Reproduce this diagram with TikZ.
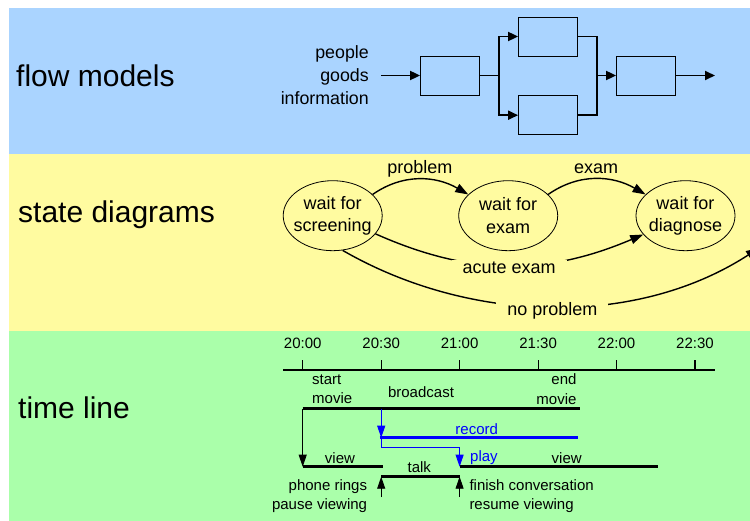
\documentclass[tikz,border=0pt]{standalone}
\usepackage{fontspec}
\setmainfont{Liberation Sans}
\usepackage{tikz}
\usetikzlibrary{shapes,arrows.meta}
\usetikzlibrary{shapes.geometric}

\definecolor{flowblue}{RGB}{170,212,255}
\definecolor{stateyellow}{RGB}{255,251,160}
\definecolor{timegreen}{RGB}{170,255,170}
\definecolor{playblue}{RGB}{0,0,255}

\begin{document}
\begin{tikzpicture}[x=1pt, y=-1pt, thin,
        bandtitle/.style={anchor=base west, inner sep=0, font=\fontsize{30}{36}\selectfont},
        flowtext/.style={inner sep=0, align=right, font=\fontsize{17.8}{23}\selectfont},
        flowbox/.style={draw, line width=0.8pt, minimum width=59, minimum height=39, inner sep=0},
        flowline/.style={line width=1.8pt},
        flowarrow/.style={line width=1.8pt, -{Triangle[length=10pt,width=9pt]}},
        waitstate/.style={ellipse, draw, line width=0.8pt, minimum width=99, minimum height=70,
            inner xsep=-5pt, inner ysep=0, align=center, font=\fontsize{18}{22.7}\selectfont},
        stateedge/.style={line width=1.4pt, -{Triangle[length=13pt,width=9pt]}},
        arclabel/.style={above, inner sep=1pt, text height=13pt, text depth=3.8pt,
            font=\fontsize{18}{22}\selectfont},
        gaplabel/.style={fill=stateyellow, inner xsep=11pt, inner ysep=2pt,
            font=\fontsize{18}{22}\selectfont},
        tltext/.style={inner sep=0, font=\fontsize{15}{19.5}\selectfont},
        ticklabel/.style={tltext, anchor=south, yshift=10.7pt},
        axisline/.style={line width=1.2pt},
        bar/.style={line width=3pt},
        tlarrow/.style={line width=0.9pt, -{Triangle[length=12pt,width=8pt]}},
    ]
        % Bands
        \useasboundingbox (0,0) rectangle (750,521);
        \clip (0,0) rectangle (750,521);
        \fill[flowblue]    (9,8)   rectangle (750,154);
        \fill[stateyellow] (9,154) rectangle (750,331);
        \fill[timegreen]   (9,331) rectangle (750,521);

        \node[bandtitle] (flowtitle)  at (16,87)    {flow models};
        \node[bandtitle] (statetitle) at (18,222.5) {state diagrams};
        \node[bandtitle] (timetitle)  at (18,418.3) {time line};

        % Flow model
        \node[flowtext, anchor=east] (goods) at (369,74.7) {people\\goods\\information};
        \node[flowbox] (boxa) at (450,75.5)  {};
        \node[flowbox] (boxb) at (548,36.5)  {};
        \node[flowbox] (boxc) at (548,115.2) {};
        \node[flowbox] (boxd) at (646,75.5)  {};
        \coordinate (flowin)  at (381,75.5);
        \coordinate (split)   at (498.7,75.5);
        \coordinate (merge)   at (596.7,75.5);
        \coordinate (flowout) at (715,75.5);

        \draw[flowarrow] (flowin) -- (boxa);
        \draw[flowline]  (boxa) -- (split);
        \draw[flowarrow] (split) |- (boxb);
        \draw[flowarrow] (split) |- (boxc);
        \draw[flowline]  (boxb) -| (merge);
        \draw[flowline]  (boxc) -| (merge);
        \draw[flowarrow] (merge) -- (boxd);
        \draw[flowarrow] (boxd) -- (flowout);

        % States
        \node[waitstate] (screening) at (332.7,215.7) {wait for\\screening};
        \node[waitstate] (exam)      at (508.2,215.7) {wait for\\exam};
        \node[waitstate] (diagnose)  at (685.5,215.7) {wait for\\diagnose};
        \coordinate (offstate) at (759,248);

        % Transitions
        \path[stateedge] (screening.28) edge[out=35, in=150] node[arclabel] {problem} (exam.152);
        \path[stateedge] (exam.28) edge[out=35, in=150] node[arclabel] {exam} (diagnose.152);
        \path[stateedge] (screening.-23) edge[out=-24, in=203] node[gaplabel, yshift=-2pt] {acute exam} (diagnose.204);
        \path[stateedge] (screening.-74) edge[out=-30, in=213, looseness=0.9] node[gaplabel, yshift=-4.5pt] {no problem} (offstate);

        % Time axis
        \coordinate (axisl) at (283,370);
        \coordinate (axisr) at (715,370);
        \draw[axisline] (axisl) -- (axisr);
        \draw[axisline] (302.7,370) -- (302.7,360) node[ticklabel] (h2000) {20:00};
        \draw[axisline] (381.2,370) -- (381.2,360) node[ticklabel] (h2030) {20:30};
        \draw[axisline] (459.6,370) -- (459.6,360) node[ticklabel] (h2100) {21:00};
        \draw[axisline] (538.1,370) -- (538.1,360) node[ticklabel] (h2130) {21:30};
        \draw[axisline] (616.5,370) -- (616.5,360) node[ticklabel] (h2200) {22:00};
        \draw[axisline] (695,370)   -- (695,360)   node[ticklabel] (h2230) {22:30};

        % Time line points
        \coordinate (movstart)   at (302.7,408.7);
        \coordinate (movend)     at (580,408.7);
        \coordinate (recfrom)    at (381.2,408.7);
        \coordinate (recstart)   at (381.2,437.7);
        \coordinate (recleft)    at (379.5,437.7);
        \coordinate (recend)     at (578,437.7);
        \coordinate (recbend)    at (381.2,447.3);
        \coordinate (playbend)   at (459.6,447.3);
        \coordinate (view1start) at (302.7,466.7);
        \coordinate (view1end)   at (383.3,466.7);
        \coordinate (view2start) at (459.6,466.7);
        \coordinate (view2end)   at (658.3,466.7);
        \coordinate (talkstart)  at (381.2,476.7);
        \coordinate (talkend)    at (459.6,476.7);
        \coordinate (ringfoot)   at (381.2,497);
        \coordinate (resumefoot) at (459.6,497);

        \draw[bar] (movstart) -- (movend);
        \draw[bar, playblue] (recleft) -- (recend);
        \draw[bar] (view1start) -- (view1end);
        \draw[bar] (view2start) -- (view2end);
        \draw[bar] (talkstart) -- (talkend);
        \draw[tlarrow] (movstart) -- (view1start);
        \draw[tlarrow, playblue] (recfrom) -- (recstart);
        \draw[tlarrow, playblue] (recstart) -- (recbend) -- (playbend) -- (view2start);
        \draw[tlarrow] (ringfoot) -- (talkstart);
        \draw[tlarrow] (resumefoot) -- (talkend);

        \node[tltext, align=left, anchor=west]  (startmovie) at (312,389)     {start\\movie};
        \node[tltext]                           (broadcast)  at (421,392.5)   {broadcast};
        \node[tltext, align=right, anchor=east] (endmovie)   at (576.7,389)   {end\\movie};
        \node[tltext, text=playblue]            (record)     at (476.7,428.8) {record};
        \node[tltext]                           (view1)      at (340,457.7)   {view};
        \node[tltext, text=playblue, anchor=west] (play)     at (470,457.7)   {play};
        \node[tltext]                           (view2)      at (566.7,457.7) {view};
        \node[tltext]                           (talk)       at (419.3,467)   {talk};
        \node[tltext, align=right, anchor=east] (phonerings) at (367.3,496)   {phone rings\\pause viewing};
        \node[tltext, align=left, anchor=west]  (finish)     at (469.3,496)   {finish conversation\\resume viewing};

\end{tikzpicture}
\end{document}
